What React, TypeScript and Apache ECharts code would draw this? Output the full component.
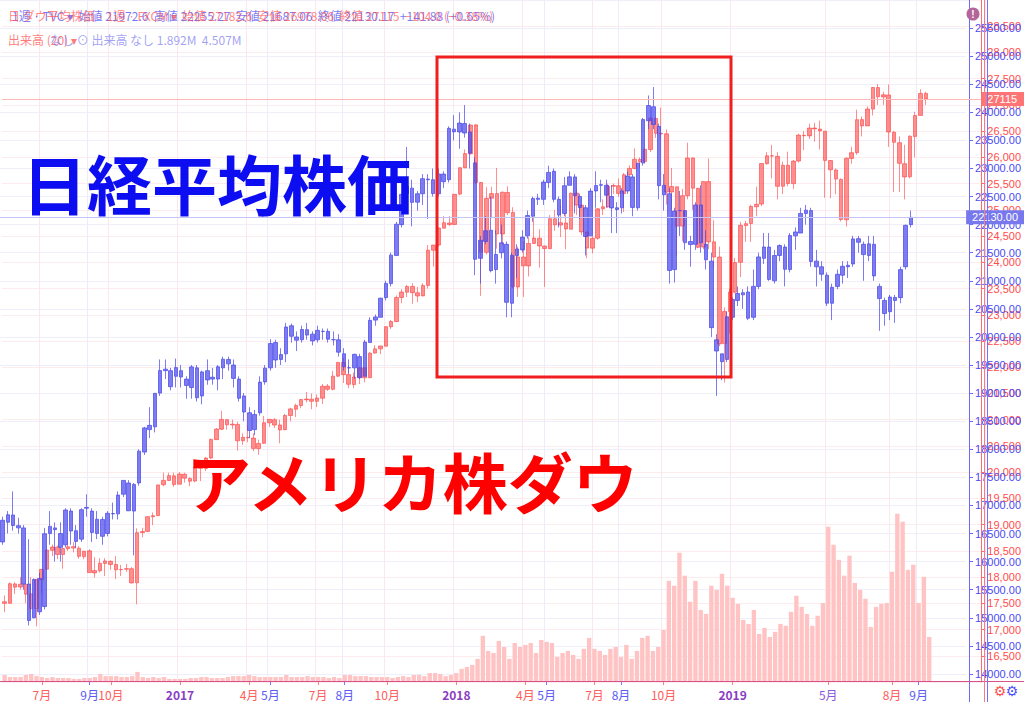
import React, { useEffect, useRef } from 'react';
import * as echarts from 'echarts';

// ---------- categories: weekly slots from 2016-05-16 (175 bars + 10 empty slots) ----------
const START_UTC = Date.UTC(2016, 4, 16);
const SLOT_COUNT = 185;
const weeks: string[] = Array.from({ length: SLOT_COUNT }, (_, i) => {
  const d = new Date(START_UTC + i * 7 * 86400000);
  return `${d.getUTCFullYear()}-${String(d.getUTCMonth() + 1).padStart(2, '0')}-${String(d.getUTCDate()).padStart(2, '0')}`;
});
// the Nikkei chart has no bar for the 2019 Golden Week (market closed all week)
const nikkeiClosedWeeks = ['2019-04-29'];
const nikkeiWeeks = weeks.filter((w) => !nikkeiClosedWeeks.includes(w));

// ---------- x tick labels (slot index, text) ----------
const redTickLabels: [number, string][] = [
  [7, '7月'], [20, '10月'], [33, '2017'], [46, '4月'], [59, '7月'], [72, '10月'],
  [85, '2018'], [98, '4月'], [111, '7月'], [124, '10月'], [137, '2019'], [155, '5月'], [167, '8月'],
];
const blueTickLabels: [number, string][] = [
  [16, '9月'], [50, '5月'], [64, '8月'], [102, '5月'], [116, '8月'], [172, '9月'],
];
const purpleLabels = ['2017', '2018', '2019'];

// ---------- ダウ (FXCM) weekly candles: [open, close, low, high] ----------
const dowCandles: number[][] = [
  // 2016
  [17530, 17500, 17330, 17650], [17500, 17873, 17490, 17900], [17870, 17807, 17680, 17900], [17810, 17865, 17760, 18000],
  [17860, 17675, 17500, 17880], [17680, 17400, 17356, 18000], [17400, 17949, 17060, 17960], [17950, 18147, 17700, 18150],
  [18150, 18516, 18140, 18540], [18510, 18571, 18400, 18620], [18570, 18432, 18340, 18600], [18430, 18543, 18160, 18560],
  [18540, 18576, 18500, 18670], [18580, 18553, 18470, 18670], [18550, 18395, 18350, 18590], [18390, 18492, 18340, 18500],
  [18500, 18085, 18080, 18530], [18080, 18124, 17990, 18380], [18120, 18262, 18090, 18360], [18260, 18308, 18020, 18360],
  [18300, 18240, 18140, 18320], [18240, 18138, 17960, 18400], [18140, 18145, 18020, 18230], [18150, 18161, 18100, 18250],
  [18160, 17888, 17880, 18190], [17890, 18847, 17480, 18930], [18850, 18868, 18760, 18940], [18870, 19152, 18860, 19160],
  [19150, 19171, 18990, 19230], [19170, 19757, 19170, 19760], [19760, 19843, 19730, 19990], [19840, 19934, 19830, 19990],
  [19930, 19763, 19720, 19990],
  // 2017
  [19770, 19964, 19770, 19999], [19960, 19886, 19800, 19990], [19880, 19827, 19730, 19900], [19830, 20093, 19810, 20125],
  [20090, 20071, 19830, 20100], [20070, 20269, 20020, 20290], [20270, 20624, 20250, 20640], [20620, 20822, 20620, 20840],
  [20820, 21005, 20800, 21170], [21000, 20903, 20810, 21010], [20900, 20915, 20820, 21000], [20910, 20597, 20410, 20960],
  [20600, 20663, 20520, 20740], [20660, 20656, 20570, 20890], [20650, 20453, 20400, 20740], [20450, 20548, 20330, 20620],
  [20550, 20941, 20540, 21070], [20940, 21007, 20860, 21010], [21000, 20897, 20840, 21030], [20900, 20805, 20550, 21000],
  [20810, 21080, 20800, 21110], [21080, 21206, 20970, 21225], [21200, 21272, 21050, 21305], [21270, 21384, 21220, 21390],
  [21380, 21395, 21330, 21530], [21390, 21350, 21200, 21500], [21350, 21414, 21240, 21480], [21410, 21638, 21300, 21680],
  [21640, 21580, 21550, 21680], [21580, 21830, 21560, 21930], [21830, 22092, 21820, 22100], [22090, 21858, 21700, 22180],
  [21860, 21675, 21600, 22030], [21670, 21814, 21600, 21900], [21810, 21988, 21680, 22000], [21990, 21798, 21710, 21990],
  [21800, 22268, 21800, 22290], [22270, 22350, 22260, 22420], [22350, 22405, 22250, 22410], [22400, 22773, 22400, 22780],
  [22770, 22871, 22730, 22900], [22870, 23329, 22860, 23370], [23330, 23434, 23220, 23490], [23430, 23539, 23340, 23570],
  [23540, 23422, 23210, 23600], [23420, 23358, 23240, 23530], [23360, 23558, 23350, 23600], [23560, 24231, 23500, 24330],
  [24230, 24329, 23920, 24330], [24330, 24652, 24300, 24670], [24650, 24754, 24650, 24880], [24750, 24719, 24690, 24880],
  // 2018
  [24720, 25296, 24720, 25300], [25300, 25803, 25280, 25810], [25800, 26072, 25800, 26150], [26070, 26617, 26050, 26620],
  [26620, 25521, 25490, 26600], [25520, 24191, 23360, 25530], [24190, 25219, 24150, 25430], [25220, 25310, 24840, 25440],
  [25310, 24539, 24260, 25800], [24540, 25336, 24330, 25350], [25330, 24946, 24900, 25450], [24950, 23533, 23510, 25050],
  [23530, 24103, 23340, 24300], [24100, 23933, 23340, 24400], [23930, 24360, 23730, 24480], [24360, 24463, 24350, 24860],
  [24460, 24311, 23900, 24630], [24310, 24263, 23530, 24320], [24260, 24831, 24250, 24900], [24830, 24715, 24600, 25000],
  [24710, 24753, 24480, 25090], [24750, 24635, 24250, 24950], [24630, 25317, 24630, 25330], [25320, 25090, 24900, 25400],
  [25090, 24580, 24520, 25100], [24580, 24271, 24080, 24580], [24270, 24456, 24170, 24500], [24460, 25019, 24430, 25030],
  [25020, 25058, 24900, 25200], [25060, 25451, 25040, 25500], [25450, 25463, 25300, 25500], [25460, 25313, 25250, 25600],
  [25310, 25669, 24960, 25700], [25670, 25790, 25650, 25850], [25790, 25965, 25770, 26170], [25960, 25917, 25800, 26000],
  [25920, 26155, 25880, 26170], [26150, 26744, 26100, 26770], [26740, 26458, 26370, 26770], [26460, 26447, 26340, 26950],
  [26450, 25340, 25100, 26530], [25340, 25444, 25000, 25800], [25440, 24688, 24120, 25440], [24690, 25271, 24400, 25400],
  [25270, 25989, 25200, 26280], [25990, 25413, 25000, 26000], [25410, 24286, 24270, 25400], [24290, 25538, 24250, 25540],
  [25540, 24389, 24250, 25980], [24390, 24100, 23880, 24800], [24100, 22445, 22400, 24300], [22450, 23062, 21710, 23140],
  // 2019
  [23060, 23433, 22640, 23500], [23430, 23996, 23410, 24080], [24000, 24706, 23720, 24770], [24700, 24737, 24390, 24790],
  [24740, 25064, 24390, 25100], [25060, 25106, 24880, 25440], [25110, 25883, 25070, 25890], [25880, 26031, 25860, 26100],
  [26030, 26026, 25600, 26240], [26020, 25450, 25200, 26100], [25450, 25849, 25300, 25920], [25850, 25502, 25450, 26110],
  [25500, 25929, 25400, 25950], [25930, 26425, 25900, 26450], [26420, 26412, 26140, 26500], [26410, 26559, 26350, 26640],
  [26560, 26543, 26300, 26660], [26540, 26505, 26150, 26700], [26500, 25942, 25230, 26500], [25940, 25764, 25220, 25930],
  [25760, 25586, 25300, 25790], [25580, 24815, 24780, 25600], [24810, 25984, 24680, 26000], [25980, 26090, 25880, 26200],
  [26090, 26719, 26050, 26910], [26720, 26600, 26400, 26780], [26600, 26922, 26600, 26970], [26920, 27332, 26800, 27340],
  [27330, 27154, 27000, 27400], [27150, 27192, 27000, 27250], [27190, 26485, 26200, 27390], [26480, 26287, 25340, 26500],
  [26280, 25886, 25340, 26400], [25880, 25628, 25200, 26240], [25630, 26403, 25600, 26420], [26400, 26797, 26000, 26870],
  [26800, 27219, 26800, 27300], [27220, 27115, 27000, 27250],
];

// ---------- 日経平均 (TVC) weekly candles: [open, close, low, high] ----------
const nikkeiCandles: number[][] = [
  // 2016
  [16350, 16736, 16300, 16800], [16700, 16834, 16500, 16900], [16830, 16642, 16550, 17250], [16640, 16601, 16500, 16780],
  [16600, 15599, 15500, 16650], [15600, 14952, 14864, 16400], [15000, 15682, 14990, 15700], [15700, 15106, 15050, 15800],
  [15200, 16497, 15150, 16600], [16500, 16627, 16300, 16900], [16600, 16569, 16000, 16700], [16500, 16254, 16000, 16700],
  [16300, 16919, 16250, 16950], [16900, 16545, 16300, 16950], [16550, 16360, 16250, 16650], [16400, 16925, 16350, 16950],
  [16950, 16965, 16800, 17200], [16900, 16519, 16350, 16950], [16500, 16754, 16400, 16900], [16750, 16450, 16300, 16800],
  [16500, 16860, 16450, 16900], [16850, 16856, 16750, 17050], [16850, 17184, 16750, 17250], [17200, 17446, 17150, 17450],
  [17400, 16905, 16900, 17450], [16900, 17374, 16111, 17400], [17400, 17967, 17350, 18000], [17950, 18381, 17900, 18400],
  [18350, 18426, 18200, 18750], [18400, 18996, 18300, 19000], [19000, 19401, 18950, 19600], [19400, 19427, 19250, 19600],
  [19400, 19114, 19050, 19450],
  // 2017
  [19300, 19454, 19100, 19615], [19400, 19287, 19100, 19500], [19250, 19137, 18900, 19300], [19100, 19467, 18900, 19500],
  [19450, 18918, 18850, 19500], [18950, 19378, 18800, 19400], [19400, 19235, 19150, 19600], [19250, 19283, 19150, 19450],
  [19250, 19469, 19050, 19500], [19450, 19604, 19250, 19650], [19600, 19521, 19400, 19650], [19500, 19262, 19100, 19600],
  [19250, 18909, 18850, 19300], [18950, 18664, 18500, 19000], [18650, 18335, 18200, 18750], [18350, 18620, 18250, 18700],
  [18650, 19196, 18600, 19300], [19200, 19445, 19150, 19500], [19450, 19883, 19400, 19960], [19900, 19590, 19450, 19950],
  [19600, 19686, 19500, 19800], [19700, 20177, 19550, 20250], [20200, 20013, 19900, 20240], [20000, 19943, 19750, 20100],
  [19950, 20132, 19900, 20200], [20130, 20033, 19950, 20250], [20050, 19929, 19850, 20100], [19950, 20118, 19900, 20200],
  [20100, 20099, 19950, 20150], [20100, 19959, 19900, 20150], [19950, 19952, 19850, 20100], [19950, 19729, 19650, 20050],
  [19700, 19470, 19400, 19800], [19450, 19452, 19350, 19600], [19450, 19691, 19250, 19700], [19650, 19274, 19250, 19700],
  [19300, 19909, 19300, 19950], [19900, 20296, 19900, 20350], [20300, 20356, 20200, 20400], [20350, 20690, 20350, 20700],
  [20700, 20954, 20650, 21000], [20950, 21457, 20900, 21500], [21450, 22008, 21450, 22050], [22000, 22539, 21950, 22550],
  [22550, 22681, 22400, 23382], [22650, 22397, 21970, 22800], [22400, 22550, 22250, 22600], [22550, 22819, 22350, 22900],
  [22800, 22811, 22100, 22900], [22800, 22553, 22500, 23000], [22550, 22902, 22500, 23000], [22900, 22765, 22650, 22950],
  // 2018
  [22800, 23715, 22750, 23750], [23700, 23653, 23500, 23950], [23650, 23808, 23350, 24000], [23800, 23631, 23550, 24129],
  [23650, 23274, 23000, 23800], [23100, 21383, 21100, 23200], [21400, 21720, 20950, 21800], [21700, 21892, 21650, 22150],
  [21900, 21181, 21150, 22500], [21200, 21469, 20950, 21900], [21500, 21676, 21400, 22000], [21650, 20617, 20350, 21700],
  [20600, 21454, 20350, 21500], [21450, 21567, 21050, 21650], [21550, 21778, 21500, 21900], [21800, 22162, 21750, 22250],
  [22150, 22467, 22050, 22500], [22450, 22472, 22350, 22550], [22450, 22758, 22350, 22800], [22750, 22930, 22650, 23050],
  [22950, 22450, 22400, 23000], [22450, 22171, 21950, 22500], [22200, 22694, 22150, 22850], [22700, 22851, 22700, 22950],
  [22850, 22516, 22200, 22900], [22500, 22304, 22100, 22550], [22300, 21788, 21450, 22350], [21800, 22597, 21800, 22650],
  [22600, 22697, 22300, 22950], [22700, 22712, 22400, 22800], [22700, 22525, 22300, 22800], [22500, 22298, 21850, 22700],
  [22300, 22270, 21850, 22400], [22300, 22601, 22200, 22650], [22600, 22865, 22550, 22950], [22850, 22307, 22150, 22900],
  [22300, 23094, 22250, 23100], [23100, 23870, 23050, 23900], [23850, 24120, 23700, 24300], [24100, 23784, 23700, 24450],
  [23750, 22694, 22450, 23800], [22700, 22532, 22250, 22900], [22550, 21184, 20950, 22650], [21200, 22243, 20970, 22300],
  [22250, 22250, 21800, 22600], [22250, 21680, 21550, 22150], [21700, 21646, 21250, 21800], [21650, 22351, 21550, 22400],
  [22350, 21679, 21500, 22700], [21650, 21375, 21200, 21900], [21350, 20166, 20000, 21500], [19950, 19750, 18950, 20050],
  // 2019 (no Golden Week bar)
  [19700, 19560, 19230, 19700], [19600, 20360, 19550, 20450], [20350, 20666, 20300, 20700], [20650, 20774, 20550, 20900],
  [20750, 20788, 20500, 20850], [20800, 20333, 20300, 20900], [20350, 20900, 20300, 21200], [20900, 21425, 20850, 21500],
  [21400, 21602, 21300, 21850], [21600, 21025, 21000, 21850], [21000, 21450, 20950, 21550], [21450, 21627, 21350, 21650],
  [21600, 21205, 20900, 21650], [21200, 21807, 21150, 21850], [21800, 21870, 21550, 21950], [21850, 22200, 21850, 22300],
  [22200, 22258, 22000, 22350], [22250, 21344, 21250, 22300], [21350, 21250, 20900, 21550],
  [21250, 21117, 21000, 21350], [21100, 20601, 20550, 21150], [20600, 20884, 20300, 20950], [20900, 21116, 20850, 21200],
  [21100, 21258, 20950, 21350], [21250, 21276, 21050, 21350], [21300, 21746, 21250, 21800], [21750, 21686, 21500, 21800],
  [21650, 21467, 21000, 21700], [21450, 21658, 21350, 21800], [21650, 21087, 21000, 21800], [20900, 20684, 20110, 20950],
  [20650, 20418, 20200, 20700], [20450, 20711, 20300, 20750], [20650, 20704, 20250, 20750], [20700, 21199, 20600, 21250],
  [21250, 21988, 21200, 22000], [22000, 22130, 21950, 22250],
];

// ---------- 出来高 (M) ----------
const dowVolume: number[] = [
  // 2016
  0.26, 0.17, 0.17, 0.17, 0.26, 0.30, 0.21, 0.17, 0.13, 0.17, 0.13, 0.13, 0.13, 0.09, 0.09, 0.13, 0.13,
  0.17, 0.30, 0.21, 0.21, 0.21, 0.17, 0.17, 0.21, 0.39, 0.17, 0.13, 0.17, 0.13, 0.17, 0.09, 0.09,
  // 2017
  0.09, 0.09, 0.13, 0.13, 0.17, 0.17, 0.13, 0.13, 0.13, 0.17, 0.21, 0.21, 0.21, 0.26, 0.21, 0.17, 0.17,
  0.17, 0.17, 0.17, 0.26, 0.17, 0.17, 0.17, 0.21, 0.17, 0.17, 0.17, 0.13, 0.17, 0.13, 0.26, 0.26, 0.21,
  0.21, 0.21, 0.17, 0.17, 0.17, 0.17, 0.13, 0.17, 0.21, 0.17, 0.26, 0.26, 0.21, 0.34, 0.34, 0.30, 0.21, 0.26,
  // 2018
  0.34, 0.52, 0.60, 0.69, 0.95, 1.94, 1.29, 1.20, 1.72, 1.46, 0.95, 1.63, 1.46, 1.55, 1.63, 1.20, 1.76,
  1.68, 1.63, 1.03, 1.20, 1.29, 1.12, 0.95, 1.38, 1.85, 1.38, 1.29, 1.12, 1.38, 1.46, 1.03, 1.55, 0.95,
  1.29, 1.85, 1.94, 1.29, 1.46, 2.19, 4.30, 4.09, 5.50, 4.52, 3.40, 4.30, 3.05, 2.88, 4.09, 3.91,
  // 2019
  4.60, 4.09, 3.57, 3.31, 2.62, 2.45, 3.05, 2.02, 2.28, 1.89, 2.11, 2.45, 2.37, 2.97, 3.66, 3.18, 2.88,
  2.37, 2.80, 3.35, 6.62, 5.85, 5.20, 4.52, 5.38, 4.21, 3.91, 3.53, 2.32, 3.18, 3.31, 3.35, 4.69, 7.18,
  6.84, 4.77, 4.99, 3.35, 4.47, 1.89,
];

const RED = '#ff3c3c';
const BLUE = '#4646eb';
const JP = '"Noto Sans CJK JP", sans-serif';
const NUM = '"Liberation Sans", Arial, sans-serif';

const redIdx = new Map(redTickLabels);
const blueIdx = new Map(blueTickLabels);
const redLast = dowCandles[dowCandles.length - 1][1];
const blueLast = nikkeiCandles[nikkeiCandles.length - 1][1];

export default function App() {
  const ref = useRef<HTMLDivElement>(null);
  useEffect(() => {
    if (!ref.current) return;
    const chart = echarts.init(ref.current, undefined, { renderer: 'svg' });
    const redInt = (i: number) => redIdx.has(i);
    const blueInt = (i: number) => blueIdx.has(i);
    const G = { left: 2, right: 39 };
    chart.setOption({
      animation: false,
      backgroundColor: '#ffffff',
      grid: [
        { ...G, top: 0, bottom: 21 },
        { ...G, top: -20, height: 702 },
        // the overlaid Nikkei screenshot has a slightly wider bar spacing
        { left: -3.7, right: 39, top: -22, height: 724 },
      ],
      xAxis: [
        {
          type: 'category', gridIndex: 0, data: weeks, position: 'bottom', offset: 0,
          axisLine: { show: false },
          axisTick: { show: true, interval: redInt, alignWithLabel: true, length: 4, lineStyle: { color: '#ff8080' } },
          axisLabel: {
            interval: redInt, margin: 7, fontSize: 12, fontFamily: JP, color: '#ff5c5c',
            formatter: (_v: string, i: number) => {
              const t = redIdx.get(i) || '';
              if (purpleLabels.includes(t)) return `{y|${t}}`;
              if (i === 155) return `{p|${t}}`;
              return t;
            },
            rich: {
              y: { color: '#8a3dc4', fontWeight: 'bold', fontSize: 12, fontFamily: JP },
              p: { color: '#8a5ad8', fontSize: 12, fontFamily: JP },
            },
          },
          splitLine: { show: true, interval: redInt, lineStyle: { color: '#fbe8ec', width: 1 } },
        },
        {
          type: 'category', gridIndex: 0, data: weeks, position: 'bottom', offset: 0,
          axisLine: { show: false },
          axisTick: { show: true, interval: blueInt, alignWithLabel: true, length: 4, lineStyle: { color: '#7a7aff' } },
          axisLabel: {
            interval: blueInt, margin: 7, fontSize: 12, fontFamily: JP, color: '#5a5af5',
            formatter: (_v: string, i: number) => blueIdx.get(i) || '',
          },
          splitLine: { show: true, interval: blueInt, lineStyle: { color: '#ececfb', width: 1 } },
        },
        { type: 'category', gridIndex: 1, data: weeks, show: false },
        { type: 'category', gridIndex: 2, data: nikkeiWeeks, show: false },
      ],
      yAxis: [
        { type: 'value', gridIndex: 0, min: 0, max: 29.23, show: false, splitLine: { show: false } },
        {
          type: 'value', gridIndex: 1, position: 'right', min: 16000, max: 29000, interval: 500,
          axisLine: { show: true, lineStyle: { color: '#ff6a6a' } },
          axisTick: { show: true, length: 4, lineStyle: { color: '#ff6a6a' } },
          axisLabel: { color: '#ff4d4d', fontSize: 11, fontFamily: NUM, margin: 6, showMinLabel: false, showMaxLabel: false },
          splitLine: { show: true, lineStyle: { color: '#fdeced' } },
        },
        {
          type: 'value', gridIndex: 2, position: 'right', offset: 3, min: 13500, max: 26000, interval: 500,
          axisLine: { show: true, lineStyle: { color: '#6a6aff' } },
          axisTick: { show: true, length: 4, lineStyle: { color: '#6a6aff' } },
          axisLabel: {
            color: '#4a4af2', fontSize: 11, fontFamily: NUM, margin: 6, showMinLabel: false, showMaxLabel: false,
            formatter: (v: number) => v.toFixed(2),
          },
          splitLine: { show: true, lineStyle: { color: '#efeffc' } },
        },
      ],
      series: [
        {
          type: 'bar', name: '出来高', xAxisIndex: 0, yAxisIndex: 0, data: dowVolume,
          barWidth: '82%', itemStyle: { color: '#ffc3c3' }, silent: true,
        },
        {
          type: 'candlestick', name: 'ダウ', xAxisIndex: 2, yAxisIndex: 1, data: dowCandles, barWidth: 4,
          itemStyle: { color: RED, color0: RED, borderColor: RED, borderColor0: RED, borderWidth: 1, opacity: 0.58 },
          markLine: {
            silent: true, symbol: ['none', 'none'], animation: false,
            lineStyle: { color: '#ffb8b8', width: 1, type: 'solid' },
            label: {
              show: true, position: 'end', distance: 0, formatter: String(redLast),
              color: '#fff', backgroundColor: '#ff7575', padding: [2, 10, 1, 6], fontSize: 11, fontFamily: NUM,
            },
            data: [{ yAxis: redLast }],
          },
        },
        {
          type: 'candlestick', name: '日経平均', xAxisIndex: 3, yAxisIndex: 2, data: nikkeiCandles, barWidth: 4,
          itemStyle: { color: BLUE, color0: BLUE, borderColor: BLUE, borderColor0: BLUE, borderWidth: 1, opacity: 0.7 },
          markLine: {
            silent: true, symbol: ['none', 'none'], animation: false,
            lineStyle: { color: '#c4c4f6', width: 1, type: 'solid' },
            label: {
              show: true, position: 'end', distance: 0, formatter: blueLast.toFixed(2),
              color: '#fff', backgroundColor: '#7878ee', padding: [2, 6, 1, 6], fontSize: 11, fontFamily: NUM,
            },
            data: [{ yAxis: blueLast }],
          },
        },
      ],
      graphic: [
        { type: 'line', silent: true, z: 50, shape: { x1: 0, y1: 681.5, x2: 1024, y2: 681.5 }, style: { stroke: '#d8508c', lineWidth: 1 } },
        { type: 'line', silent: true, z: 50, shape: { x1: 984.5, y1: 0, x2: 984.5, y2: 702 }, style: { stroke: '#ff7a7a', lineWidth: 1 } },
        { type: 'line', silent: true, z: 50, shape: { x1: 987.5, y1: 0, x2: 987.5, y2: 702 }, style: { stroke: '#7070ff', lineWidth: 1 } },
        // header line 1
        { type: 'text', silent: true, z: 60, x: 12, y: 9, style: { text: '1週 · TVC ▾  始値 21972.6  高値 22255.27  安値 21687.06  終値 22130.17  +141.88 (+0.65%)', fill: 'rgba(80,80,245,0.75)', fontSize: 12, fontFamily: JP } },
        { type: 'text', silent: true, z: 60, x: 8, y: 9, style: { text: '日 ダウ平均株価 · 1週 · FXCM ▾  始値 27182.6  安値 26978.06  終値 27115  −104.0 (−0.38%)', fill: 'rgba(255,80,80,0.7)', fontSize: 12, fontFamily: JP } },
        // header line 2
        { type: 'text', silent: true, z: 60, x: 8, y: 33, style: { text: '出来高 (20) ▾', fill: 'rgba(255,80,80,0.75)', fontSize: 12, fontFamily: JP } },
        { type: 'text', silent: true, z: 60, x: 50, y: 33, style: { text: 'なし ⊙ 出来高 なし 1.892M  4.507M', fill: 'rgba(120,120,240,0.7)', fontSize: 12, fontFamily: JP } },
        // alert icon
        { type: 'circle', silent: true, z: 60, shape: { cx: 973, cy: 14, r: 6.5 }, style: { fill: '#b4669a' } },
        { type: 'text', silent: true, z: 61, x: 973, y: 14, style: { text: '!', fill: '#fff', fontSize: 10, fontWeight: 'bold', fontFamily: NUM, align: 'center', verticalAlign: 'middle' } },
        // gear icons
        { type: 'text', silent: true, z: 60, x: 1000, y: 691, style: { text: '⚙', fill: '#ff5050', fontSize: 14, fontFamily: '"DejaVu Sans"', align: 'center', verticalAlign: 'middle' } },
        { type: 'text', silent: true, z: 60, x: 1012, y: 691, style: { text: '⚙', fill: '#5050ff', fontSize: 14, fontFamily: '"DejaVu Sans"', align: 'center', verticalAlign: 'middle' } },
        // overlay annotations
        { type: 'text', silent: true, z: 100, x: 22, y: 182, style: { text: '日経平均株価', fill: '#0d0df2', fontSize: 65, fontWeight: 'bold', fontFamily: JP, verticalAlign: 'middle' } },
        { type: 'text', silent: true, z: 100, x: 186, y: 480, style: { text: 'アメリカ株ダウ', fill: '#ff0000', fontSize: 65, fontWeight: 'bold', fontFamily: JP, verticalAlign: 'middle' } },
        { type: 'rect', silent: true, z: 100, shape: { x: 437, y: 57, width: 294, height: 320 }, style: { fill: 'none', stroke: '#f01e1e', lineWidth: 3 } },
      ],
    });
    return () => chart.dispose();
  }, []);
  return <div ref={ref} style={{ position: 'absolute', left: 0, top: 0, width: 1024, height: 702 }} />;
}
